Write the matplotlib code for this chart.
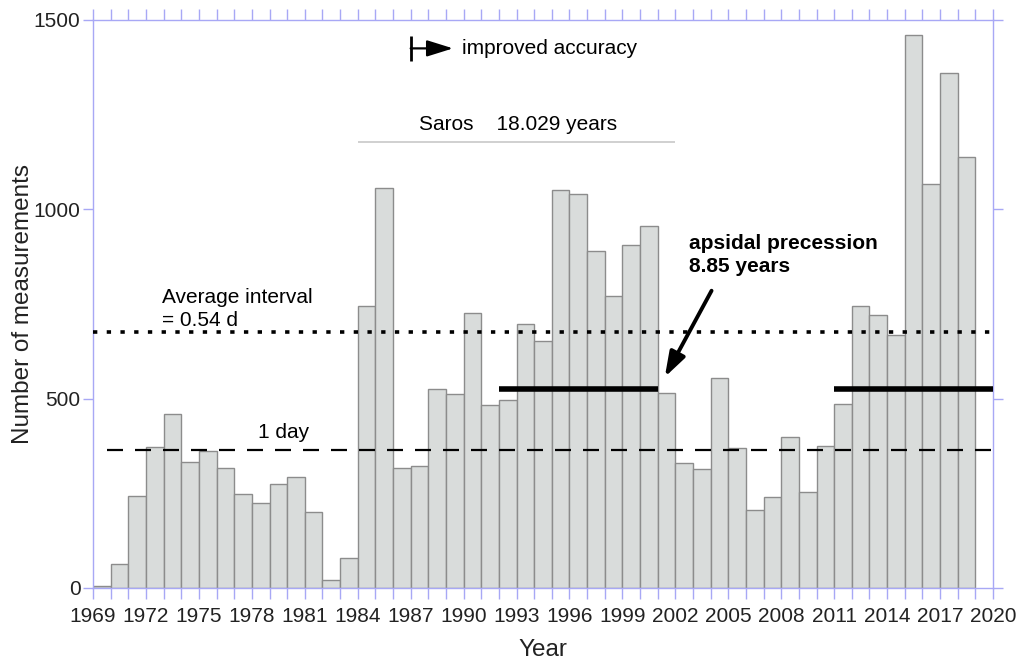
import numpy as np
import matplotlib
matplotlib.use("Agg")
import matplotlib.pyplot as plt

plt.rcParams['font.family'] = ['Liberation Sans', 'DejaVu Sans']

# yearly counts, each bar spans [year, year + 1)
years = list(range(1969, 2019))
counts = [5, 62, 243, 371, 459, 332, 362, 317, 248, 224,
          274, 293, 201, 22, 80, 744, 1057, 318, 321, 526,
          513, 725, 484, 497, 697, 652, 1051, 1040, 889, 770,
          905, 956, 514, 330, 313, 554, 370, 205, 240, 398,
          253, 374, 486, 744, 721, 667, 1461, 1066, 1359, 1138]

avg_interval_level = 676   # 365.25 / 0.54 d
one_day_level = 365
apsidal_spans = [(1992, 2001), (2011, 2020)]
apsidal_level = 525
saros_span = (1984, 2002)
saros_level = 1178
accuracy_start = 1987.0
accuracy_level = 1425

frame_color = '#a8a8f5'

fig = plt.figure(figsize=(10.19, 6.64), dpi=100)
ax = fig.add_axes([0.0913, 0.1145, 0.8832, 0.8554])

ax.bar(years, counts, width=1.0, align='edge', color='#d9dcdb',
       edgecolor='#8c8c8c', linewidth=1.0, zorder=2)

ax.axhline(avg_interval_level, color='black', linestyle=(0, (1.2, 2.6)),
           linewidth=2.6, zorder=3)
ax.hlines(one_day_level, 1969.8, 2020, color='black', linestyle=(0, (7.2, 5.4)),
          linewidth=1.6, zorder=3)
for x0, x1 in apsidal_spans:
    ax.hlines(apsidal_level, x0, x1, color='black', linewidth=4, zorder=4)
ax.hlines(saros_level, *saros_span, color='#c8c8c8', linewidth=1.2, zorder=3)

ax.text(1993.1, 1209, 'Saros    18.029 years', ha='center', va='baseline', fontsize=15)
ax.text(1972.9, 693, 'Average interval\n= 0.54 d', ha='left', va='baseline',
        fontsize=15, linespacing=1.22)
ax.text(1979.8, 395, '1 day', ha='center', va='baseline', fontsize=15)
ax.text(2002.8, 834, 'apsidal precession\n8.85 years', ha='left', va='baseline',
        fontsize=15, fontweight='bold', linespacing=1.25)

ax.annotate('', xy=(2001.4, 557), xytext=(2004.05, 785),
            arrowprops=dict(arrowstyle='-|>,head_length=1.5,head_width=0.5',
                            color='black', lw=2.8, shrinkA=0, shrinkB=0))
ax.annotate('', xy=(accuracy_start + 2.4, accuracy_level),
            xytext=(accuracy_start, accuracy_level),
            arrowprops=dict(arrowstyle='-|>,head_length=1.6,head_width=0.5',
                            color='black', lw=1.6, shrinkA=0, shrinkB=0))
ax.vlines(accuracy_start, accuracy_level - 33, accuracy_level + 33,
          color='black', linewidth=2.0)
ax.text(accuracy_start + 2.9, accuracy_level, 'improved accuracy',
        ha='left', va='center', fontsize=15)

ax.set_xlim(1969, 2020)
ax.set_ylim(0, 1500)
ax.set_xticks(range(1969, 2021, 3))
ax.set_xticks(range(1969, 2021), minor=True)
ax.set_yticks([0, 500, 1000, 1500])
ax.tick_params(axis='both', which='both', direction='out', colors=frame_color,
               labelcolor='#222222', labelsize=15, width=1.0)
ax.tick_params(axis='x', which='both', length=8, top=True, pad=6)
ax.tick_params(axis='y', length=7, right=True, pad=2)
for s in ax.spines.values():
    s.set_color(frame_color)
    s.set_linewidth(1.0)

ax.set_xlabel('Year', fontsize=17.5, color='#222222', labelpad=9)
ax.set_ylabel('Number of measurements', fontsize=17.5, color='#222222', labelpad=0)

fig.savefig('out.png', dpi=100)
